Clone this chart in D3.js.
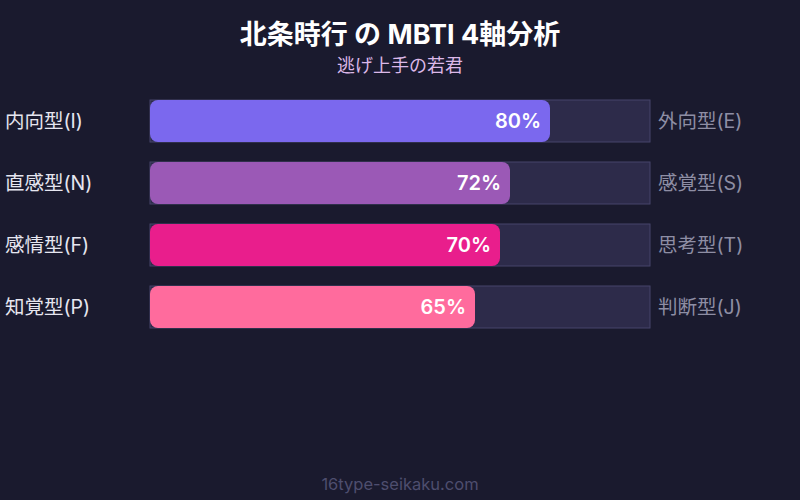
<!DOCTYPE html>
<html>
<head>
<meta charset="utf-8">
<script src="https://cdn.jsdelivr.net/npm/d3@7"></script>
<style>
  body { margin: 0; background: #1a1a2e; }
  svg { display: block; font-family: Inter, "Noto Sans CJK JP", sans-serif; }
</style>
</head>
<body>
<div id="chart"></div>
<script>
var leftLabels = ["内向型(I)", "直感型(N)", "感情型(F)", "知覚型(P)"];
var rightLabels = ["外向型(E)", "感覚型(S)", "思考型(T)", "判断型(J)"];
var values = [80, 72, 70, 65];
var colors = ["#7b68ee", "#9b59b6", "#e91e8c", "#ff6b9d"];

var width = 800, height = 500;

var svg = d3.select("#chart")
    .append("svg")
    .attr("width", width)
    .attr("height", height);

svg.append("rect")
    .attr("width", width)
    .attr("height", height)
    .attr("fill", "#1a1a2e");

svg.append("text")
    .attr("x", width / 2)
    .attr("y", 44)
    .attr("text-anchor", "middle")
    .attr("font-size", 27)
    .attr("font-weight", "bold")
    .attr("fill", "#ffffff")
    .text("北条時行 の MBTI 4軸分析");

svg.append("text")
    .attr("x", width / 2)
    .attr("y", 72)
    .attr("text-anchor", "middle")
    .attr("font-size", 18)
    .attr("fill", "#dcb8e8")
    .text("逃げ上手の若君");

var x = d3.scaleLinear().domain([0, 100]).range([150, 650]);
var y = d3.scaleBand().domain(d3.range(values.length)).range([100, 328]).paddingInner(20 / 62).paddingOuter(0);

var rows = svg.selectAll(".row")
    .data(values)
    .enter().append("g")
    .attr("class", "row");

rows.append("rect")
    .attr("x", x(0))
    .attr("y", function(d, i) { return y(i); })
    .attr("width", x(100) - x(0))
    .attr("height", y.bandwidth())
    .attr("fill", "#2d2b4a")
    .attr("stroke", "#46446a")
    .attr("stroke-width", 1);

rows.append("rect")
    .attr("x", x(0))
    .attr("y", function(d, i) { return y(i); })
    .attr("width", function(d) { return x(d) - x(0); })
    .attr("height", y.bandwidth())
    .attr("rx", 8)
    .attr("fill", function(d, i) { return colors[i]; });

rows.append("text")
    .attr("x", function(d) { return x(d) - 9; })
    .attr("y", function(d, i) { return y(i) + y.bandwidth() / 2; })
    .attr("dy", "0.35em")
    .attr("text-anchor", "end")
    .attr("font-size", 20)
    .attr("font-weight", 600)
    .attr("fill", "#ffffff")
    .text(function(d) { return d + "%"; });

rows.append("text")
    .attr("x", 5)
    .attr("y", function(d, i) { return y(i) + y.bandwidth() / 2; })
    .attr("dy", "0.35em")
    .attr("font-size", 19.5)
    .attr("fill", "#e6e6f0")
    .text(function(d, i) { return leftLabels[i]; });

rows.append("text")
    .attr("x", 658)
    .attr("y", function(d, i) { return y(i) + y.bandwidth() / 2; })
    .attr("dy", "0.35em")
    .attr("font-size", 19.5)
    .attr("fill", "#8e8ea4")
    .text(function(d, i) { return rightLabels[i]; });

svg.append("text")
    .attr("x", width / 2)
    .attr("y", 490)
    .attr("text-anchor", "middle")
    .attr("font-size", 16.5)
    .attr("fill", "#4e4e6e")
    .text("16type-seikaku.com");
</script>
</body>
</html>
